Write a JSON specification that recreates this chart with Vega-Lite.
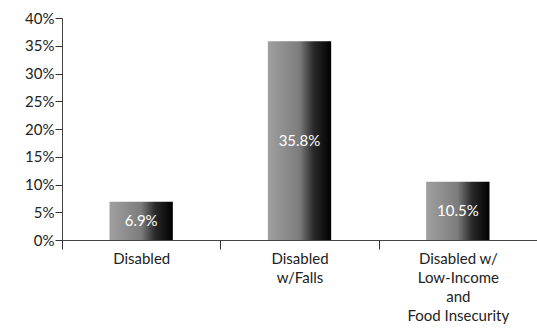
{
  "$schema": "https://vega.github.io/schema/vega-lite/v6.json",
  "autosize": {"type": "none"},
  "width": 475,
  "height": 222,
  "padding": {"left": 62, "top": 18, "right": 0, "bottom": 93},
  "background": "white",
  "data": {
    "values": [
      {"group": "Disabled", "share": 6.9},
      {"group": "Disabled w/Falls", "share": 35.8},
      {"group": "Disabled w/ Low-Income and Food Insecurity", "share": 10.5}
    ]
  },
  "transform": [{"calculate": "datum.share / 2", "as": "mid"}],
  "encoding": {
    "x": {
      "field": "group",
      "type": "nominal",
      "sort": null,
      "scale": {"paddingInner": 0, "paddingOuter": 0},
      "axis": {
        "title": null,
        "labelAngle": 0,
        "labelFont": "Lato",
        "labelFontSize": 15,
        "labelColor": "#222",
        "labelLineHeight": 19,
        "labelPadding": 2,
        "ticks": true,
        "tickBand": "extent",
        "tickSize": 9,
        "tickWidth": 1,
        "tickColor": "#333",
        "domainColor": "#444",
        "labelExpr": "datum.value == 'Disabled w/Falls' ? ['Disabled', 'w/Falls'] : datum.value == 'Disabled w/ Low-Income and Food Insecurity' ? ['Disabled w/', 'Low-Income', 'and', 'Food Insecurity'] : datum.value"
      }
    }
  },
  "layer": [
    {
      "mark": {
        "type": "bar",
        "width": {"band": 0.4},
        "color": {
          "gradient": "linear",
          "x1": 0, "x2": 1, "y1": 0, "y2": 0,
          "stops": [
            {"offset": 0, "color": "#a0a0a0"},
            {"offset": 0.5, "color": "#7c7c7c"},
            {"offset": 0.72, "color": "#2a2a2a"},
            {"offset": 1, "color": "#000000"}
          ]
        }
      },
      "encoding": {
        "y": {
          "field": "share",
          "type": "quantitative",
          "scale": {"domain": [0, 40], "nice": false},
          "axis": {
            "title": null,
            "values": [0, 5, 10, 15, 20, 25, 30, 35, 40],
            "labelExpr": "datum.value + '%'",
            "labelOverlap": false,
            "labelFlush": false,
            "labelFont": "Lato",
            "labelFontSize": 15,
            "labelColor": "#222",
            "labelPadding": 1,
            "tickSize": 7,
            "tickColor": "#333",
            "domainColor": "#444",
            "grid": false
          }
        }
      }
    },
    {
      "mark": {
        "type": "text",
        "font": "Lato",
        "fontSize": 15,
        "color": "white",
        "baseline": "middle",
        "align": "center",
        "text": {"expr": "format(datum.share, '.1f') + '%'"}
      },
      "encoding": {
        "y": {"field": "mid", "type": "quantitative", "axis": null}
      }
    }
  ],
  "resolve": {"axis": {"y": "independent"}},
  "config": {"view": {"stroke": null}}
}
